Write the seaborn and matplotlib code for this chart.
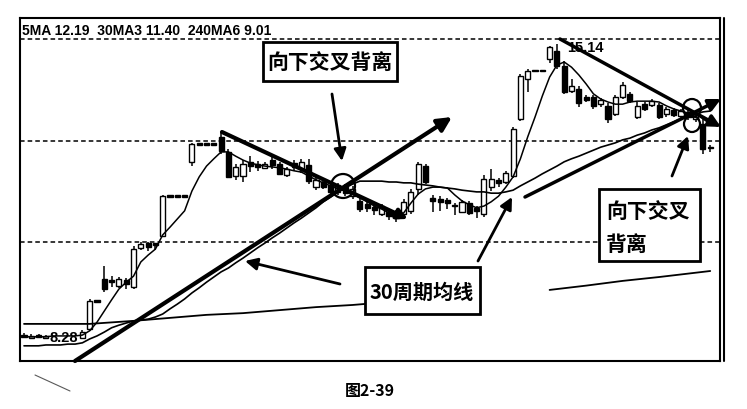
import numpy as np
import pandas as pd
import seaborn as sns
import matplotlib
matplotlib.use("Agg")
import matplotlib.pyplot as plt
from matplotlib.patches import Rectangle, Ellipse, FancyArrowPatch
from matplotlib.lines import Line2D
from matplotlib.transforms import Affine2D

W, H = 747, 410

# weekly candles (NaN = hidden under the low label)
nan = np.nan
opens = [8.37, 8.30, 8.37, 8.30, nan, nan, nan, nan, 8.30, 8.51,
         9.16, 9.67, 9.65, 9.51, 9.65, 9.49, 10.40, 10.51, 10.49, 10.67,
         11.60, 11.60, 11.60, 12.40, 12.81, 12.81, 12.81, 12.98, 12.63, 12.07,
         12.07, 12.40, 12.35, 12.26, 12.44, 12.35, 12.09, 12.37, 12.23, 12.33,
         11.81, 11.93, 11.86, 11.70, 11.81, 11.60, 11.49, 11.42, 11.35, 11.19,
         11.23, 11.21, 11.19, 11.26, 11.77, 12.30, 11.56, 11.53, 11.51, 11.37,
         11.23, 11.44, 11.33, 11.19, 11.81, 11.98, 11.93, 12.07, 13.40, 14.33,
         14.51, 14.51, 14.79, 14.98, 14.63, 14.05, 14.09, 13.91, 13.91, 13.74,
         13.70, 13.51, 13.91, 13.98, 13.44, 13.74, 13.72, 13.72, 13.51, 13.60,
         13.47, 13.56, 13.40, 13.28, 12.74]
highs = [8.42, 8.40, 8.40, 8.37, nan, nan, nan, nan, 8.49, 9.21,
         9.19, 9.98, 9.74, 9.72, 9.70, 10.44, 10.53, 10.53, 10.51, 11.63,
         11.61, 11.61, 11.61, 12.84, 12.82, 12.82, 12.82, 13.09, 12.70, 12.35,
         12.44, 12.53, 12.42, 12.40, 12.53, 12.40, 12.28, 12.44, 12.47, 12.47,
         12.05, 11.98, 11.91, 11.91, 11.88, 11.84, 11.58, 11.47, 11.40, 11.42,
         11.30, 11.28, 11.53, 11.77, 12.40, 12.35, 11.63, 11.60, 11.56, 11.44,
         11.51, 11.49, 11.37, 12.09, 12.23, 12.02, 12.19, 13.21, 14.44, 14.56,
         14.52, 14.52, 15.10, 15.14, 14.74, 14.33, 14.16, 13.95, 13.95, 13.88,
         13.77, 13.95, 14.26, 14.02, 13.79, 13.79, 13.86, 13.77, 13.67, 13.65,
         13.63, 13.60, 13.60, 13.40, 12.79]
lows = [8.30, 8.30, 8.30, 8.28, nan, nan, nan, nan, 8.30, 8.47,
        9.14, 9.37, 9.49, 9.47, 9.44, 9.44, 10.35, 10.33, 10.35, 10.65,
        11.59, 11.59, 11.59, 12.30, 12.80, 12.80, 12.80, 12.58, 12.02, 11.98,
        11.93, 12.16, 12.19, 12.23, 12.23, 12.09, 12.05, 12.19, 12.14, 11.88,
        11.74, 11.77, 11.65, 11.63, 11.60, 11.53, 11.23, 11.23, 11.16, 11.14,
        11.05, 11.00, 11.12, 11.19, 11.63, 11.88, 11.23, 11.26, 11.30, 11.16,
        11.21, 11.16, 11.09, 11.12, 11.72, 11.81, 11.88, 12.02, 13.35, 14.02,
        14.50, 14.50, 14.70, 14.56, 13.98, 14.00, 13.67, 13.79, 13.63, 13.67,
        13.30, 13.47, 13.86, 13.77, 13.40, 13.58, 13.67, 13.40, 13.44, 13.44,
        13.40, 13.37, 13.33, 12.58, 12.63]
closes = [8.33, 8.35, 8.33, 8.35, nan, nan, nan, nan, 8.44, 9.16,
          9.15, 9.44, 9.60, 9.67, 9.56, 10.37, 10.49, 10.42, 10.47, 11.60,
          11.59, 11.59, 11.59, 12.81, 12.80, 12.80, 12.80, 12.65, 12.05, 12.28,
          12.35, 12.30, 12.28, 12.35, 12.33, 12.12, 12.23, 12.28, 12.40, 11.95,
          11.98, 11.81, 11.70, 11.86, 11.67, 11.77, 11.30, 11.33, 11.28, 11.37,
          11.14, 11.09, 11.47, 11.70, 12.35, 11.93, 11.49, 11.47, 11.44, 11.40,
          11.47, 11.21, 11.26, 12.00, 12.00, 11.91, 12.14, 13.16, 14.40, 14.51,
          14.50, 14.50, 15.07, 14.63, 14.02, 14.16, 13.77, 13.84, 13.70, 13.84,
          13.40, 13.91, 14.19, 13.81, 13.70, 13.63, 13.81, 13.44, 13.63, 13.49,
          13.58, 13.44, 13.53, 12.70, 12.72]

# moving averages
ma5 = [8.33, 8.33, 8.33, 8.33, 8.35, 8.35, 8.35, 8.35, 8.37, 8.47,
       8.67, 8.93, 9.19, 9.44, 9.60, 9.74, 10.07, 10.23, 10.37, 10.70,
       10.88, 11.07, 11.26, 11.72, 12.05, 12.30, 12.47, 12.63, 12.63, 12.53,
       12.44, 12.37, 12.33, 12.30, 12.28, 12.26, 12.23, 12.19, 12.16, 12.07,
       11.98, 11.91, 11.84, 11.77, 11.72, 11.65, 11.56, 11.47, 11.37, 11.30,
       11.21, 11.14, 11.21, 11.44, 11.65, 11.77, 11.81, 11.81, 11.79, 11.63,
       11.49, 11.40, 11.33, 11.37, 11.47, 11.60, 11.81, 12.05, 12.47, 12.98,
       13.44, 13.93, 14.37, 14.65, 14.72, 14.60, 14.42, 14.21, 13.98, 13.86,
       13.79, 13.74, 13.74, 13.79, 13.81, 13.81, 13.81, 13.79, 13.70, 13.63,
       13.58, 13.53, 13.51, 13.40, 13.28]
ma30 = [8.12, 8.12, 8.12, 8.14, 8.14, 8.14, 8.16, 8.16, 8.19, 8.28,
        8.35, 8.44, 8.54, 8.60, 8.65, 8.70, 8.72, 8.74, 8.79, 8.86,
        8.98, 9.09, 9.21, 9.35, 9.47, 9.60, 9.72, 9.84, 9.93, 10.05,
        10.16, 10.28, 10.40, 10.51, 10.63, 10.74, 10.86, 10.98, 11.09, 11.21,
        11.33, 11.47, 11.58, 11.70, 11.79, 11.88, 11.95, 11.95, 11.95, 11.95,
        11.93, 11.93, 11.91, 11.91, 11.88, 11.86, 11.84, 11.81, 11.79, 11.77,
        11.74, 11.72, 11.70, 11.70, 11.67, 11.67, 11.70, 11.74, 11.84, 11.93,
        12.02, 12.12, 12.21, 12.30, 12.40, 12.47, 12.53, 12.60, 12.67, 12.74,
        12.79, 12.84, 12.91, 12.95, 13.02, 13.07, 13.14, 13.19, 13.26, 13.33,
        13.40, 13.47, 13.51, 13.56, 13.58]
ma240_idx_left = [0, 9, 15, 20, 25, 30, 35, 40, 45, 50, 55, 62]
ma240_left = [8.63, 8.63, 8.70, 8.77, 8.84, 8.88, 8.95, 9.02, 9.07, 9.14, 9.21, 9.30]
ma240_idx_right = [72, 77, 82, 87, 93, 94]
ma240_right = [9.42, 9.52, 9.63, 9.72, 9.84, 9.86]

grid_prices = [10.53, 12.88, 15.26]
header = "5MA 12.19  30MA3 11.40  240MA6 9.01"
peak_label = "15.14"
low_label = "8.28"
caption = "图2-39"

sns.set_theme(style="white")
CJK = ["Noto Sans CJK SC", "DejaVu Sans"]
LATIN = ["Liberation Sans", "DejaVu Sans"]
plt.rcParams["font.family"] = CJK
plt.rcParams["text.color"] = "black"

fig = plt.figure(figsize=(W / 100, H / 100), dpi=100)
ax = fig.add_axes([20 / W, (H - 362) / H, 700 / W, 343 / H])

# pixel coordinates (origin top-left) for the hand-drawn overlays
pix = Affine2D().scale(1 / W, -1 / H).translate(0, 1) + fig.transFigure

df = pd.DataFrame({"open": opens, "high": highs, "low": lows, "close": closes})
df["week"] = np.arange(len(df))
df = df.dropna()
up = df["close"] >= df["open"]

# wicks then bodies
ax.vlines(df["week"], df["low"], df["high"], color="black", lw=1.1, zorder=2)
body_h = np.maximum((df["close"] - df["open"]).abs(), 0.03)
body_b = np.minimum(df["close"], df["open"])
ax.bar(df["week"], body_h, bottom=body_b, width=0.7,
       color=np.where(up, "white", "black"), edgecolor="black", lw=1, zorder=3)

weeks = np.arange(len(ma5))
sns.lineplot(x=weeks, y=ma5, color="black", lw=1.1, ax=ax, zorder=4)
sns.lineplot(x=weeks, y=ma30, color="black", lw=1.2, ax=ax, zorder=4)
sns.lineplot(x=ma240_idx_left, y=ma240_left, color="black", lw=1.3, ax=ax, zorder=4)
sns.lineplot(x=ma240_idx_right, y=ma240_right, color="black", lw=1.3, ax=ax, zorder=4)

ax.set_xlim(-0.55, 95.34)
ax.set_ylim(7.767, 15.744)
ax.set_yticks(grid_prices)
ax.set_xticks([])
ax.tick_params(left=False, labelleft=False)
ax.grid(axis="y", color="black", ls=(0, (3, 2)), lw=1.1)
ax.set_xlabel("")
ax.set_ylabel("")
for s in ax.spines.values():
    s.set_color("black")
    s.set_linewidth(1.5)
fig.add_artist(Line2D([724, 724], [19, 362], transform=pix, color="black", lw=1.5))

# price labels
fig.text(22, 31, header, transform=pix, ha="left", va="center",
         fontsize=10, fontweight="bold", family=LATIN)
fig.text(567, 48, peak_label, transform=pix, ha="left", va="center",
         fontsize=10.5, fontweight="bold", family=LATIN)
fig.text(49, 338, low_label, transform=pix, ha="left", va="center",
         fontsize=10.5, fontweight="bold", family=LATIN)


def arrow(p0, p1, lw=2.0, head=True, scale=12):
    style = "-|>,head_length=0.6,head_width=0.3" if head else "-"
    fig.add_artist(FancyArrowPatch(p0, p1, transform=pix, arrowstyle=style,
                                   mutation_scale=scale, color="black", lw=lw,
                                   shrinkA=0, shrinkB=0))


def box(x0, y0, x1, y1):
    fig.add_artist(Rectangle((x0, y0), x1 - x0, y1 - y0, transform=pix,
                             facecolor="white", edgecolor="black", lw=2, zorder=5))


# trend lines drawn on the chart
arrow((75, 362), (452, 118), lw=3, scale=14)
arrow((222, 133), (408, 220), lw=3, scale=10)
arrow((560, 40), (721, 128), lw=2.5, scale=12)
arrow((525, 198), (721, 100), lw=2.5, scale=12)

# crossing circles
fig.add_artist(Ellipse((343, 187), 24, 24, transform=pix, fill=False, ec="black", lw=1.6))
fig.add_artist(Ellipse((692, 109), 18, 18, transform=pix, fill=False, ec="black", lw=1.6))
fig.add_artist(Ellipse((692, 125), 16, 16, transform=pix, fill=False, ec="black", lw=1.6))

# callouts
box(263, 43, 397, 82)
fig.text(330, 63, "向下交叉背离", transform=pix, ha="center", va="center",
         fontsize=15, fontweight="bold", zorder=6)
arrow((332, 95), (342, 162))

box(365, 268, 480, 315)
fig.text(422, 292, "30周期均线", transform=pix, ha="center", va="center",
         fontsize=14.5, fontweight="bold", zorder=6)
arrow((340, 285), (245, 262))
arrow((478, 262), (512, 198))

box(599, 190, 700, 262)
fig.text(606, 211, "向下交叉", transform=pix, ha="left", va="center",
         fontsize=15, fontweight="bold", zorder=6)
fig.text(606, 244, "背离", transform=pix, ha="left", va="center",
         fontsize=15, fontweight="bold", zorder=6)
arrow((672, 177), (688, 137))

# scan smudge under the frame
fig.add_artist(Line2D([35, 70], [376, 392], transform=pix, color="0.35", lw=0.8))

fig.text(370, 391, caption, transform=pix, ha="center", va="center",
         fontsize=11.5, fontweight="bold")

fig.savefig("out.png", dpi=100, facecolor="white")
